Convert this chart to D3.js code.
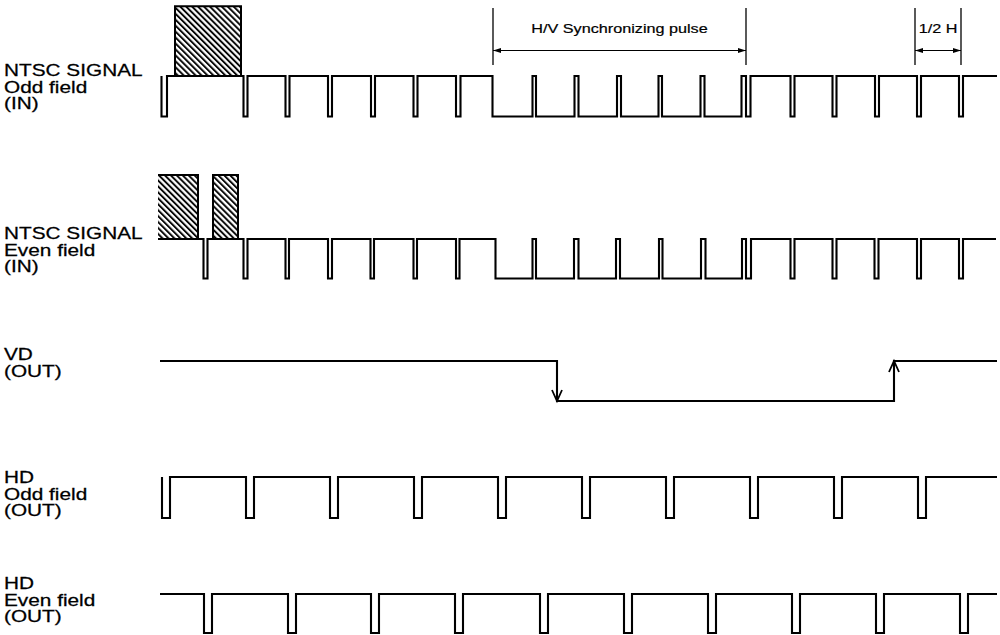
<!DOCTYPE html>
<html><head><meta charset="utf-8">
<script src="https://cdn.jsdelivr.net/npm/d3@7"></script>
<style>body{margin:0;background:#fff} svg{display:block}</style>
</head><body>
<script>
// ================= DATA (time in px-equivalent units) =================
const labelOddIn   = ["NTSC SIGNAL", "Odd field", "(IN)"];
const labelEvenIn  = ["NTSC SIGNAL", "Even field", "(IN)"];
const labelVD      = ["VD", "(OUT)"];
const labelHdOdd   = ["HD", "Odd field", "(OUT)"];
const labelHdEven  = ["HD", "Even field", "(OUT)"];

// NTSC odd field input: span and low (sync) intervals
const oddInSpan = [161.5, 997];
const oddInLow = [[161.5,167],[243.5,247.5],[285.5,289.5],[328,332],[371,375],[413.5,417.5],[456,460.5],
  [492.5,532.5],[536,574.5],[578.5,617],[621,658.5],[662,700.5],[704.5,741.5],[746,750.5],
  [790.5,794.5],[832.5,836.5],[875,879],[917,921],[959,963]];
const oddInVideo = [[175,241]];          // hatched video portions
const oddInVideoLevel = 2.72;

// NTSC even field input
const evenInSpan = [158, 996];
const evenInLow = [[203.5,207.5],[243.5,247.5],[285.5,289],[328,332],[370.5,374],[413.5,417],[456,459.5],
  [495.5,532.5],[536,574],[578.5,616],[620,659],[662.5,701],[705.5,742],[746,751],
  [790.5,794.5],[832.5,836.5],[874.5,878.5],[917,921],[959,963]];
const evenInVideo = [[158,198],[213,238]];
const evenInVideoLevel = 2.62;

// VD output
const vdSpan = [160, 997];
const vdLow = [[557, 894]];

// HD outputs: pulse starts, width
const hdOddSpan = [162, 997];
const hdOddPulse = [162, 246, 330, 414, 498, 582, 666, 750, 834, 918];
const hdEvenSpan = [160, 997];
const hdEvenPulse = [204, 288, 371, 455, 540, 624, 708, 792, 876, 960];
const hdPulseWidth = 8;

// Dimension annotations
const dimTexts = ["H/V Synchronizing pulse", "1/2 H"];
const dimStart = [493, 915];
const dimEnd   = [746, 961];

// ================= LAYOUT =================
const W = 1000, H = 635;
const rowHigh = [76, 239, 361, 477, 594];
const rowLow  = [116.5, 278.5, 401, 518, 633];
const labelBase = [[76, 92.5, 109], [239, 255.5, 272], [360, 376.5], [483, 499.5, 516], [589, 605.5, 622]];
const labelX = 4;
const FONT = "'Liberation Sans', Arial, Helvetica, sans-serif";
const SX = 1.3;

const svg = d3.select("body").append("svg").attr("width", W).attr("height", H);
const x = d3.scaleLinear().domain([0, 1000]).range([0, 1000]);
const yRow = i => d3.scaleLinear().domain([0, 1]).range([rowLow[i], rowHigh[i]]);

// hatch pattern
const defs = svg.append("defs");
const pat = defs.append("pattern").attr("id", "hatch").attr("patternUnits", "userSpaceOnUse")
  .attr("width", 4.2).attr("height", 4.2).attr("patternTransform", "rotate(-45)");
pat.append("rect").attr("width", 4.2).attr("height", 4.2).attr("fill", "#fff");
pat.append("line").attr("x1", 1).attr("y1", 0).attr("x2", 1).attr("y2", 4.2)
  .attr("stroke", "#000").attr("stroke-width", 1.9);

function stepPoints(span, lows) {
  const pts = [[span[0], 1]];
  lows.forEach(([a, b]) => { pts.push([a, 1], [a, 0], [b, 0], [b, 1]); });
  pts.push([span[1], 1]);
  return pts;
}
function drawSignal(i, pts) {
  const y = yRow(i);
  const line = d3.line().x(d => x(d[0])).y(d => y(d[1]));
  svg.append("path").attr("d", line(pts)).attr("fill", "none")
    .attr("stroke", "#000").attr("stroke-width", 2.1).attr("stroke-linejoin", "miter");
}
function drawVideo(i, spans, level, leftBorder) {
  const y = yRow(i);
  spans.forEach(([a, b], k) => {
    svg.append("rect").attr("x", x(a)).attr("y", y(level)).attr("width", x(b) - x(a))
      .attr("height", y(1) - y(level)).attr("fill", "url(#hatch)");
    const p = d3.path();
    if (leftBorder[k]) { p.moveTo(x(a), y(1)); p.lineTo(x(a), y(level)); } else { p.moveTo(x(a), y(level)); }
    p.lineTo(x(b), y(level)); p.lineTo(x(b), y(1));
    svg.append("path").attr("d", p.toString()).attr("fill", "none").attr("stroke", "#000").attr("stroke-width", 2);
  });
}
function drawLabel(i, lines) {
  lines.forEach((t, k) => {
    svg.append("text").attr("transform", `translate(${labelX},${labelBase[i][k]}) scale(${SX},1)`)
      .attr("font-family", FONT).attr("font-size", 16).attr("fill", "#000")
      .attr("stroke", "#000").attr("stroke-width", 0.25).text(t);
  });
}

// Rows 1 & 2
drawVideo(0, oddInVideo, oddInVideoLevel, [true]);
drawSignal(0, stepPoints(oddInSpan, oddInLow));
drawVideo(1, evenInVideo, evenInVideoLevel, [false, true]);
drawSignal(1, stepPoints(evenInSpan, evenInLow));

// Row 3 VD
drawSignal(2, stepPoints(vdSpan, vdLow));
{
  const y = yRow(2);
  const down = vdLow[0][0], up = vdLow[0][1];
  const ah = 11, aw = 5;
  svg.append("path").attr("d", `M${x(down)-aw},${y(0)-ah} L${x(down)},${y(0)} L${x(down)+aw},${y(0)-ah}`)
    .attr("fill", "none").attr("stroke", "#000").attr("stroke-width", 1.8);
  svg.append("path").attr("d", `M${x(up)-aw},${y(1)+ah} L${x(up)},${y(1)} L${x(up)+aw},${y(1)+ah}`)
    .attr("fill", "none").attr("stroke", "#000").attr("stroke-width", 1.8);
}

// Rows 4 & 5 HD
drawSignal(3, stepPoints(hdOddSpan, hdOddPulse.map(p => [p, p + hdPulseWidth])));
drawSignal(4, stepPoints(hdEvenSpan, hdEvenPulse.map(p => [p, p + hdPulseWidth])));

// Labels
drawLabel(0, labelOddIn);
drawLabel(1, labelEvenIn);
drawLabel(2, labelVD);
drawLabel(3, labelHdOdd);
drawLabel(4, labelHdEven);

// Dimension annotations
const dimTop = 8, dimBot = 65, dimArrowY = 50.5, textBase = 33;
dimTexts.forEach((t, k) => {
  const a = x(dimStart[k]), b = x(dimEnd[k]);
  [a, b].forEach(v => svg.append("line").attr("x1", v).attr("x2", v).attr("y1", dimTop).attr("y2", dimBot)
    .attr("stroke", "#000").attr("stroke-width", 1.3));
  svg.append("line").attr("x1", a).attr("x2", b).attr("y1", dimArrowY).attr("y2", dimArrowY)
    .attr("stroke", "#000").attr("stroke-width", 1.1);
  svg.append("path").attr("d", `M${a},${dimArrowY} l8,-2.5 l0,5 Z`).attr("fill", "#000");
  svg.append("path").attr("d", `M${b},${dimArrowY} l-8,-2.5 l0,5 Z`).attr("fill", "#000");
  svg.append("text").attr("transform", `translate(${(a + b) / 2},${textBase}) scale(1.2,1)`)
    .attr("text-anchor", "middle").attr("font-family", FONT).attr("font-size", 13.5)
    .attr("fill", "#000").attr("stroke", "#000").attr("stroke-width", 0.2).text(t);
});
</script>
</body></html>
